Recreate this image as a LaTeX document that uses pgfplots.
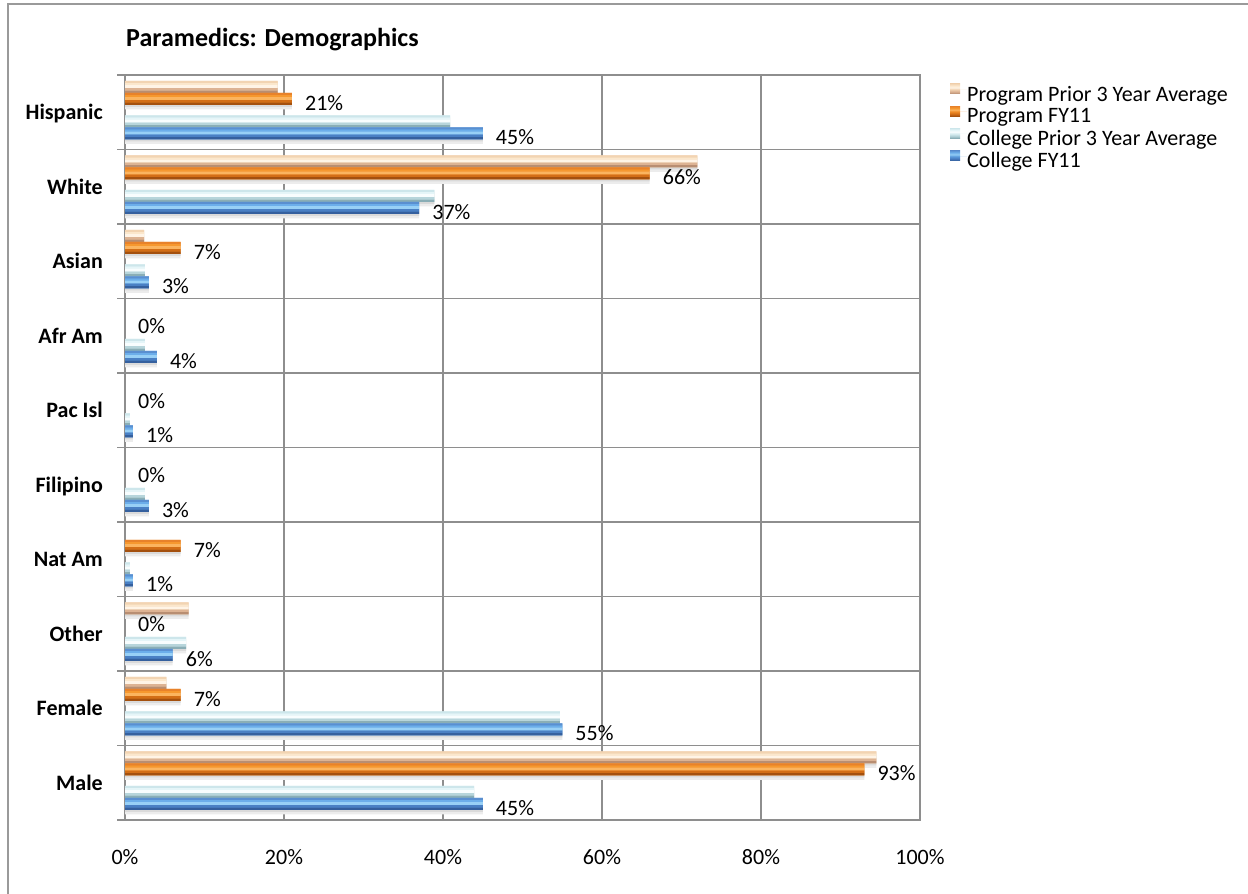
\documentclass[border=0pt]{standalone}
\usepackage{pgfplots}
\pgfplotsset{compat=1.18}
\usepackage{pgfplotstable}
\usepackage{fontspec}
\setmainfont{Carlito}

\newcommand{\lbl}{\fontsize{22}{26}\selectfont}
\newcommand{\ttl}{\fontsize{26}{30}\selectfont\bfseries}

\definecolor{gridgray}{HTML}{8E8E8E}
\definecolor{framegray}{HTML}{9A9A9A}
\definecolor{shadowA}{HTML}{ECECEC}
\definecolor{shadowB}{HTML}{DADADA}

% Program prior 3 year average (peach), bottom to top
\definecolor{pp0}{HTML}{B88E72}\definecolor{pp1}{HTML}{DDB393}\definecolor{pp2}{HTML}{F2D3B2}
\definecolor{pp3}{HTML}{FFF4E6}\definecolor{pp4}{HTML}{FBE7CC}\definecolor{pp5}{HTML}{F2D4B2}
% Program FY11 (orange)
\definecolor{pf0}{HTML}{A4500E}\definecolor{pf1}{HTML}{D36E16}\definecolor{pf2}{HTML}{F08A24}
\definecolor{pf3}{HTML}{FBB45F}\definecolor{pf4}{HTML}{F6982F}\definecolor{pf5}{HTML}{E8822A}
% College prior 3 year average (pale cyan)
\definecolor{cp0}{HTML}{8AAEB6}\definecolor{cp1}{HTML}{B7D5DB}\definecolor{cp2}{HTML}{D9EEF2}
\definecolor{cp3}{HTML}{F8FDFE}\definecolor{cp4}{HTML}{E5F5F8}\definecolor{cp5}{HTML}{CDE6EB}
% College FY11 (blue)
\definecolor{cf0}{HTML}{35609E}\definecolor{cf1}{HTML}{4A80C4}\definecolor{cf2}{HTML}{5D9EE0}
\definecolor{cf3}{HTML}{98D0F6}\definecolor{cf4}{HTML}{6CAEEA}\definecolor{cf5}{HTML}{5A8FD0}

% shadings for the legend squares; the path box spans 25bp..75bp
\pgfdeclareverticalshading{ppsh}{100bp}{color(0bp)=(pp0); color(25bp)=(pp0); color(36bp)=(pp1); color(47bp)=(pp2); color(56bp)=(pp3); color(65bp)=(pp4); color(75bp)=(pp5); color(100bp)=(pp5)}
\pgfdeclareverticalshading{pfsh}{100bp}{color(0bp)=(pf0); color(25bp)=(pf0); color(36bp)=(pf1); color(47bp)=(pf2); color(56bp)=(pf3); color(65bp)=(pf4); color(75bp)=(pf5); color(100bp)=(pf5)}
\pgfdeclareverticalshading{cpsh}{100bp}{color(0bp)=(cp0); color(25bp)=(cp0); color(36bp)=(cp1); color(47bp)=(cp2); color(56bp)=(cp3); color(65bp)=(cp4); color(75bp)=(cp5); color(100bp)=(cp5)}
\pgfdeclareverticalshading{cfsh}{100bp}{color(0bp)=(cf0); color(25bp)=(cf0); color(36bp)=(cf1); color(47bp)=(cf2); color(56bp)=(cf3); color(65bp)=(cf4); color(75bp)=(cf5); color(100bp)=(cf5)}

% shares in percent; idx 0 = Male (bottom) ... 9 = Hispanic (top)
\pgfplotstableread{
idx pprior pfy   cprior cfy
0   94.5   93    43.9   45
1   5.2    7     54.7   55
2   8      0     7.7    6
3   0      7     0.6    1
4   0      0     2.5    3
5   0      0     0.6    1
6   0      0     2.5    4
7   2.4    7     2.5    3
8   72     66    38.9   37
9   19.2   21    40.9   45
}\demog

\pgfplotsset{
  % one horizontal stripe of a bar: width, shift, colour
  layer/.style n args={3}{xbar, bar width=#1, bar shift=#2, fill=#3, draw=none,
      forget plot, x filter/.expression={x==0 ? nan : x}},
  legsq/.style={legend image code/.code={%
      \shade[shading=#1] (0pt,0.5pt) rectangle (10pt,10.5pt);
      \path (0pt,5pt) -- (17pt,5pt);}},
  barlabels/.style={
      nodes near coords={\pgfmathprintnumber{\pgfplotspointmeta}\%},
      point meta=x,
      every node near coord/.append style={font=\lbl, anchor=west,
        inner sep=0pt, xshift=13pt, yshift=#1, text=black}},
}

\begin{document}
\begin{tikzpicture}
\useasboundingbox (0pt,0pt) rectangle (1248pt,-894pt);
\draw[framegray, line width=1.2pt] (8pt,-1000pt) -- (8pt,-4pt) -- (1400pt,-4pt);
\node[anchor=base west, inner sep=0pt, font=\ttl] at (126pt,-46pt) {Paramedics: Demographics};

\begin{axis}[
  at={(125pt,-820pt)}, anchor=south west,
  scale only axis, width=795pt, height=745pt,
  xmin=0, xmax=100, ymin=-0.5, ymax=9.5,
  xtick={0,20,...,100},
  xticklabel={\pgfmathprintnumber{\tick}\%},
  ytick={0,...,9},
  yticklabels={Male,Female,Other,Nat Am,Filipino,Pac Isl,Afr Am,Asian,White,Hispanic},
  minor ytick={-0.5,0.5,...,9.5},
  xmajorgrids, yminorgrids,
  major tick length=0pt, minor tick length=8pt,
  tick align=outside, tick pos=left,
  axis line style={gridgray, line width=1.2pt},
  grid style={gridgray, line width=1.2pt},
  minor grid style={gridgray, line width=1.2pt},
  minor tick style={gridgray, line width=1.2pt},
  major tick style={draw=none},
  tick label style={font=\lbl},
  yticklabel style={font=\lbl\bfseries, anchor=base east, inner sep=0pt, xshift=-22pt, yshift=-7.5pt},
  xticklabel style={anchor=base, inner sep=0pt, yshift=-44pt},
  /pgf/number format/assume math mode=true,
  clip=false,
  legend cell align=left,
  legend style={at={(1,1)}, anchor=north west, xshift=30pt, yshift=-8.5pt,
    draw=none, fill=none, inner sep=0pt, row sep=3.6pt,
    nodes={inner sep=0pt, font=\lbl}},
]
% soft shadows below the bars
\addplot[layer={12pt}{21pt}{shadowA}]   table[x=pprior, y=idx] {\demog};
\addplot[layer={12pt}{9pt}{shadowA}]    table[x=pfy,    y=idx] {\demog};
\addplot[layer={12pt}{-13.5pt}{shadowA}] table[x=cprior, y=idx] {\demog};
\addplot[layer={12pt}{-25.5pt}{shadowA}] table[x=cfy,    y=idx] {\demog};
\addplot[layer={12pt}{23.5pt}{shadowB}]  table[x=pprior, y=idx] {\demog};
\addplot[layer={12pt}{11.5pt}{shadowB}]  table[x=pfy,    y=idx] {\demog};
\addplot[layer={12pt}{-11pt}{shadowB}]   table[x=cprior, y=idx] {\demog};
\addplot[layer={12pt}{-23pt}{shadowB}]   table[x=cfy,    y=idx] {\demog};

% Program Prior 3 Year Average
\addplot[layer={12pt}{25.5pt}{pp2}, forget plot=false, legsq=ppsh] table[x=pprior, y=idx] {\demog};
\addlegendentry{Program Prior 3 Year Average}
\addplot[layer={2.5pt}{20.75pt}{pp0}] table[x=pprior, y=idx] {\demog};
\addplot[layer={2.5pt}{23.25pt}{pp1}] table[x=pprior, y=idx] {\demog};
\addplot[layer={3pt}{26pt}{pp3}]      table[x=pprior, y=idx] {\demog};
\addplot[layer={2pt}{28.5pt}{pp4}]    table[x=pprior, y=idx] {\demog};
\addplot[layer={2pt}{30.5pt}{pp5}]    table[x=pprior, y=idx] {\demog};

% Program FY11
\addplot[layer={12pt}{13.5pt}{pf2}, forget plot=false, legsq=pfsh] table[x=pfy, y=idx] {\demog};
\addlegendentry{Program FY11}
\addplot[layer={2.5pt}{8.75pt}{pf0}]  table[x=pfy, y=idx] {\demog};
\addplot[layer={2.5pt}{11.25pt}{pf1}] table[x=pfy, y=idx] {\demog};
\addplot[layer={3pt}{14pt}{pf3}]      table[x=pfy, y=idx] {\demog};
\addplot[layer={2pt}{16.5pt}{pf4}]    table[x=pfy, y=idx] {\demog};
\addplot[layer={2pt}{18.5pt}{pf5}]    table[x=pfy, y=idx] {\demog};

% College Prior 3 Year Average
\addplot[layer={12pt}{-9pt}{cp2}, forget plot=false, legsq=cpsh] table[x=cprior, y=idx] {\demog};
\addlegendentry{College Prior 3 Year Average}
\addplot[layer={2.5pt}{-13.75pt}{cp0}] table[x=cprior, y=idx] {\demog};
\addplot[layer={2.5pt}{-11.25pt}{cp1}] table[x=cprior, y=idx] {\demog};
\addplot[layer={3pt}{-8.5pt}{cp3}]     table[x=cprior, y=idx] {\demog};
\addplot[layer={2pt}{-6pt}{cp4}]       table[x=cprior, y=idx] {\demog};
\addplot[layer={2pt}{-4pt}{cp5}]       table[x=cprior, y=idx] {\demog};

% College FY11
\addplot[layer={12pt}{-21pt}{cf2}, forget plot=false, legsq=cfsh] table[x=cfy, y=idx] {\demog};
\addlegendentry{College FY11}
\addplot[layer={2.5pt}{-25.75pt}{cf0}] table[x=cfy, y=idx] {\demog};
\addplot[layer={2.5pt}{-23.25pt}{cf1}] table[x=cfy, y=idx] {\demog};
\addplot[layer={3pt}{-20.5pt}{cf3}]    table[x=cfy, y=idx] {\demog};
\addplot[layer={2pt}{-18pt}{cf4}]      table[x=cfy, y=idx] {\demog};
\addplot[layer={2pt}{-16pt}{cf5}]      table[x=cfy, y=idx] {\demog};

% value labels of the FY11 series, zero values included
\addplot[xbar, bar width=12pt, bar shift=13.5pt, draw=none, fill=none, forget plot, barlabels=9.5pt]
  table[x=pfy, y=idx] {\demog};
\addplot[xbar, bar width=12pt, bar shift=-21pt, draw=none, fill=none, forget plot, barlabels=-25pt]
  table[x=cfy, y=idx] {\demog};
\end{axis}
\end{tikzpicture}
\end{document}
